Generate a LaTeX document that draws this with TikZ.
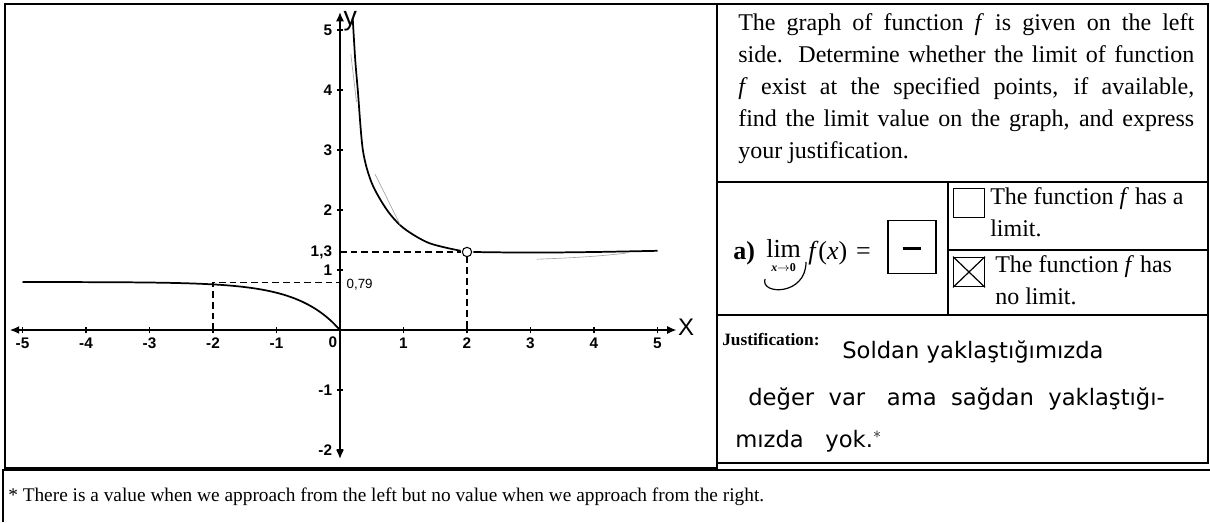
\documentclass[tikz,border=0pt]{standalone}
\usepackage{fontspec}
\setmainfont{Liberation Serif}
\setsansfont{Liberation Sans}
\newfontfamily\handfont{DejaVu Sans}
\usetikzlibrary{arrows.meta}
\newcommand{\fit}{\textit{f}}
\begin{document}
\begin{tikzpicture}[x=0.75pt,y=-0.75pt,
  frame/.style={draw=black,line width=1pt},
  thickframe/.style={draw=black,line width=1.6pt},
  axis/.style={line width=1.2pt,-{Latex[length=7pt,width=6pt]}},
  curve/.style={line width=1.3pt},
  guide/.style={dashed,line width=1.1pt,dash pattern=on 5pt off 3pt},
  pencil/.style={draw=black!35,line width=0.5pt},
  tick/.style={font=\sffamily\bfseries\fontsize{11.5}{13}\selectfont,inner sep=1pt},
  body/.style={font=\fontsize{18}{24}\selectfont,inner sep=0pt},
  limtext/.style={font=\fontsize{19.5}{21}\selectfont,anchor=base west,inner sep=0pt},
  hand/.style={font=\handfont\fontsize{17}{19}\selectfont,inner sep=0pt,anchor=base west}]
\useasboundingbox (0,0) rectangle (1210,522);
\fill[white] (0,0) rectangle (1210,522);
% panels
\draw[frame] (5,4) rectangle (717,468);
\draw[thickframe] (717,4) rectangle (1208,182);
\draw[frame] (717,182) rectangle (1208,463);
\draw[frame] (717,315) -- (1208,315);
\draw[frame] (948,182) -- (948,315);
\draw[frame] (948,250) -- (1208,250);
\draw[frame] (3,522) -- (3,470) -- (1210,470);
% graph
\begin{scope}[shift={(340,330)},x=47.625pt,y=45pt]
  \coordinate (xl) at (-5.2,0); \coordinate (xr) at (5.3,0);
  \coordinate (yb) at (0,-2.15); \coordinate (yt) at (0,5.3);
  \coordinate (O) at (0,0);
  \draw[axis] (O) -- (xr);
  \draw[axis] (O) -- (xl);
  \draw[axis] (O) -- (yt);
  \draw[axis] (O) -- (yb);
  \node[font=\sffamily\fontsize{18}{18}\selectfont,anchor=west,inner sep=1pt] (xlab) at (5.3,0.05) {X};
  \node[font=\sffamily\fontsize{20}{20}\selectfont,anchor=west,inner sep=1pt] (ylab) at (0.03,5.15) {y};
  \foreach \i in {-5,-4,-3,-2,-1,1,2,3,4,5}{
    \draw[line width=0.8pt] (\i,-0.05) -- (\i,0.05);
    \node[tick,anchor=north] (xt\i) at (\i,-0.1) {\i};
  }
  \node[tick,anchor=north east] (x0) at (-0.02,-0.08) {0};
  \foreach \j in {-2,-1,1,2,3,4,5}{
    \draw[line width=0.8pt] (-0.05,\j) -- (0.05,\j);
    \node[tick,anchor=east] (yt\j) at (-0.1,\j) {\j};
  }
  \node[tick,anchor=east] (y13) at (-0.1,1.3) {1,3};
  \node[tick,anchor=west,font=\sffamily\fontsize{10}{11}\selectfont] (y079) at (0.08,0.76) {0,79};
  % dashed guides
  \draw[guide] (-2,0) -- (-2,0.79) -- (0,0.79);
  \draw[guide] (0,1.3) -- (1.9,1.3);
  \draw[guide] (2,1.22) -- (2,0);
  % curves
  \draw[curve] plot[smooth,domain=-5:0,samples=40] (\x,{0.8*(1-exp(1.5*\x))});
  \draw[curve] plot[smooth] coordinates {(0.2,5.2) (0.24,4.5) (0.28,4) (0.36,3) (0.5,2.45) (0.74,2.0) (1,1.7) (1.4,1.45) (1.9,1.32)};
  \draw[curve] plot[smooth] coordinates {(2.1,1.3) (3,1.29) (4,1.3) (5,1.32)};
  \node[draw,circle,line width=0.8pt,minimum size=7pt,inner sep=0pt] (hole) at (2,1.3) {};
  % pencil traces
  \draw[pencil] (0.17,4.6) -- (0.26,3.8);
  \draw[pencil] (0.55,2.6) -- (0.95,1.75);
  \draw[pencil] (3.1,1.18) .. controls (3.6,1.2) and (4.0,1.22) .. (4.5,1.28);
\end{scope}
% question text
\node[body,anchor=north west,text width=342pt,align=justify] (q) at (738,13) {%
The graph of function \fit{} is given on the left\linebreak
side. Determine whether the limit of function\linebreak
\fit{} exist at the specified points, if available,\linebreak
find the limit value on the graph, and express\linebreak
your justification.};
% limit row
\node[limtext] (lim) at (733,259) {\textbf{a)}};
\node[limtext] (limw) at (766,257) {lim};
\node[font=\bfseries\fontsize{9}{9}\selectfont,anchor=north,inner sep=0pt] (lsub) at ([yshift=-5pt]limw.base) {\textit{x}$\rightarrow$0};
\node[limtext] (fx) at (808,259) {\fit{}(\textit{x})\,\,=};
\node[draw,line width=1pt,minimum width=36pt,minimum height=40pt,inner sep=0pt] (ans) at (912,247) {};
\draw[line width=2.2pt] ([xshift=-7pt,yshift=-1pt]ans.center) -- ([xshift=7pt,yshift=-1pt]ans.center);
\draw[line width=0.9pt] (765,279) .. controls (760,295) and (806,296) .. (806,262);
% checkboxes
\node[draw,line width=1pt,minimum width=23pt,minimum height=22pt,inner sep=0pt] (cb1) at (969,203) {};
\node[draw,line width=1pt,minimum width=23pt,minimum height=22pt,inner sep=0pt] (cb2) at (969,272) {};
\draw[line width=0.9pt] (cb2.north west) -- (cb2.south east) (cb2.north east) -- (cb2.south west);
\node[body,anchor=north west,align=left] (t1) at (990,187) {The function \fit{} has a\\limit.};
\node[body,anchor=north west,align=left] (t2) at (995,255) {The function \fit{} has\\no limit.};
% justification
\node[font=\bfseries\fontsize{13}{14}\selectfont,anchor=base west,inner sep=0pt] (just) at (722,345) {Justification:};
\node[hand] (h1) at (842,358) {Soldan yaklaştığımızda};
\node[hand] (h2) at (748,405) {değer \ var \ \ ama \ sağdan \ yaklaştığı-};
\node[hand] (h3) at (735,447) {mızda \ \ yok.$^{*}$};
% footnote
\node[font=\fontsize{14.5}{16}\selectfont,anchor=base west,inner sep=0pt] (note) at (8,501)
  {* There is a value when we approach from the left but no value when we approach from the right.};
\end{tikzpicture}
\end{document}
